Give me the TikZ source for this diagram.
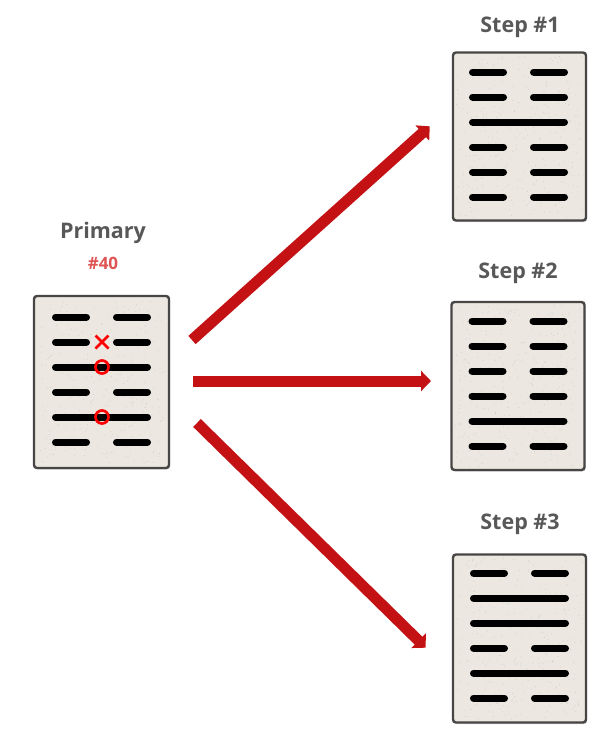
\documentclass[tikz,border=0pt]{standalone}
\usepackage{fontspec}
\setmainfont{Open Sans}
\usetikzlibrary{arrows.meta,shadows}
\definecolor{txtgray}{RGB}{88,88,88}
\definecolor{arrowred}{RGB}{196,18,20}
\definecolor{numred}{RGB}{222,84,84}
\definecolor{paper}{RGB}{236,232,225}
\definecolor{frame}{RGB}{72,70,68}
\tikzset{
  gbox/.style={draw=frame, line width=2.4pt, fill=paper, rounded corners=3pt,
    minimum width=133pt, minimum height=168pt, inner sep=0pt,
    drop shadow={opacity=0.35, shadow xshift=1pt, shadow yshift=-1.5pt}},
  ttl/.style={font=\bfseries\fontsize{21.5}{24}\selectfont, text=txtgray},
  numlabel/.style={font=\bfseries\fontsize{17}{19}\selectfont, text=numred},
  bar/.style={line width=7pt, line cap=round, black},
  bigarrow/.style={arrowred, line width=11pt, -{Triangle[width=20pt,length=10pt]}, shorten >=-1pt},
  redmark/.style={red, line width=2.7pt}
}
\newcommand\gua[3]{%
  \foreach \t [count=\i from 0] in {#3} {%
    \pgfmathsetmacro\yy{#2+25*\i}%
    \ifnum\t=1
      \draw[bar] (#1-46,\yy) -- (#1+46,\yy);
    \else
      \draw[bar] (#1-46,\yy) -- (#1-15,\yy);
      \draw[bar] (#1+15,\yy) -- (#1+46,\yy);
    \fi
  }%
}
\newcommand\grain[2]{% texture inside box centred at #1,#2
  \foreach \k in {1,...,320} {%
    \pgfmathsetmacro\gx{#1+rand*63}%
    \pgfmathsetmacro\gy{#2+rand*81}%
    \fill[gray, opacity=0.22] (\gx,\gy) circle (0.55pt);
  }%
}
\begin{document}
\begin{tikzpicture}[x=1pt,y=-1pt]
\pgfmathsetseed{7}
\useasboundingbox (0,0) rectangle (599,739);
% boxes
\node[gbox, minimum width=135pt, minimum height=172pt] (prim) at (101.5,382) {};
\node[gbox] (s1) at (519.5,136.5) {};
\node[gbox] (s2) at (518,386) {};
\node[gbox] (s3) at (519.5,638.5) {};
\grain{101.5}{382}
\grain{519.5}{136.5}
\grain{518}{386}
\grain{519.5}{638.5}
% titles
\node[ttl] (tprim) at (103,233) {Primary};
\node[numlabel] (nprim) at (103,263) {\#40};
\node[ttl] (t1) at (520,27) {Step \#1};
\node[ttl] (t2) at (518,273) {Step \#2};
\node[ttl] (t3) at (520,524) {Step \#3};
% hexagrams
\gua{101.5}{317}{0,0,1,0,1,0}
\gua{518.5}{72}{0,0,1,0,0,0}
\gua{518}{321}{0,0,0,0,1,0}
\gua{519.5}{573}{0,1,1,0,1,0}
% marks
\draw[redmark] (95.5,335.5) -- (108.5,348.5) (95.5,348.5) -- (108.5,335.5);
\draw[redmark] (102,367) circle (6.5pt);
\draw[redmark] (102,417) circle (6.5pt);
% arrows
\coordinate (a1s) at (192,340);
\coordinate (a1e) at (429,127);
\coordinate (a2s) at (193,381);
\coordinate (a2e) at (430,381);
\coordinate (a3s) at (197,423);
\coordinate (a3e) at (425,647);
\draw[bigarrow] (a1s) -- (a1e);
\draw[bigarrow] (a2s) -- (a2e);
\draw[bigarrow] (a3s) -- (a3e);
\end{tikzpicture}
\end{document}
